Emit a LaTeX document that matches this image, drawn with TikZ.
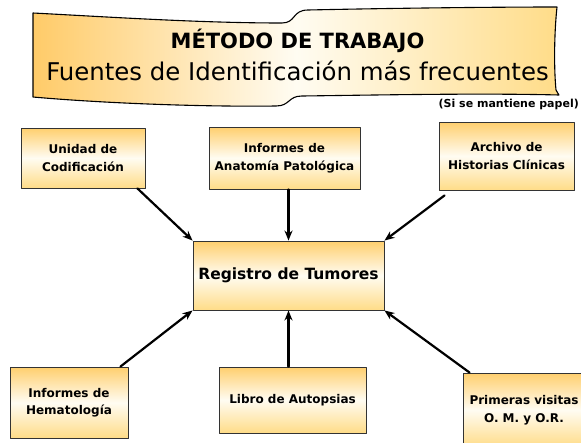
\documentclass[tikz,border=0pt]{standalone}
\usepackage{fontspec}
\setmainfont{DejaVu Sans}
\usetikzlibrary{arrows.meta,shadows}
\definecolor{naranja}{HTML}{FFCF6E}
\definecolor{crema}{HTML}{FFFCF2}
\definecolor{naranjaclaro}{HTML}{FFDC88}
\tikzset{
  fuente/.style={draw=black!80, line width=0.9pt, top color=naranja, bottom color=naranjaclaro, middle color=crema,
    align=center, inner sep=2pt, font=\bfseries\fontsize{12}{17.5}\selectfont,
    drop shadow={shadow xshift=1pt, shadow yshift=-1.2pt, opacity=.5, fill=black!70}},
  flecha/.style={-{Stealth[length=10pt,width=8pt]}, line width=2.2pt}
}
\begin{document}
\begin{tikzpicture}[x=1pt, y=-1pt, line join=round, line cap=round]
\useasboundingbox (0,0) rectangle (581,442);
\clip (0,0) rectangle (581,442);
% cartel del titulo
\draw[line width=1.1pt, left color=naranja!95!orange, right color=naranjaclaro, middle color=crema]
  (33,13) .. controls (110,17) and (200,23) .. (282,23) .. controls (296,23) and (292,10) .. (308,10)
  .. controls (400,8) and (500,7) .. (557,7) .. controls (554,35) and (554,70) .. (556,90)
  .. controls (557,93) and (559,94) .. (559,95) .. controls (480,93) and (380,95) .. (302,96)
  .. controls (288,96) and (290,106) .. (276,106) .. controls (200,107) and (100,103) .. (33,97) -- cycle;
\node[anchor=base] (metodo) at (297.5,48) {\bfseries\fontsize{21}{24}\selectfont MÉTODO DE TRABAJO};
\node[anchor=base] (fuentes) at (297.5,80) {\fontsize{24.4}{27}\selectfont Fuentes de Identificación más frecuentes};
\node[anchor=base east, inner sep=0pt] (papel) at (579,107) {\bfseries\fontsize{11}{13}\selectfont (Si se mantiene papel)};
% fuentes de identificacion
\node[fuente, minimum width=124pt, minimum height=60pt] (codif) at (83,158) {Unidad de\\Codificación};
\node[fuente, minimum width=151pt, minimum height=62pt] (anato) at (284.5,158) {Informes de\\Anatomía Patológica};
\node[fuente, minimum width=135pt, minimum height=68pt] (archi) at (506.5,156) {Archivo de\\Historias Clínicas};
\node[fuente, minimum width=118pt, minimum height=71pt] (hemat) at (69,402.5) {Informes de\\Hematología};
\node[fuente, minimum width=147pt, minimum height=66pt] (libro) at (292.5,400) {Libro de Autopsias};
\node[fuente, minimum width=122pt, minimum height=74pt] (prime) at (524,410) {Primeras visitas\\O. M. y O.R.};
% registro central
\node[fuente, minimum width=191pt, minimum height=69pt, font=\bfseries\fontsize{15.5}{18}\selectfont] (regis) at (288.5,275.5) {Registro de Tumores};
% flechas
\draw[flecha] ([xshift=-8pt]codif.south east) -- (regis.north west);
\draw[flecha] (anato.south -| regis.north) -- (regis.north);
\draw[flecha] ([xshift=6pt,yshift=-5pt]archi.south west) -- (regis.north east);
\draw[flecha] ([xshift=-8pt]hemat.north east) -- (regis.south west);
\draw[flecha] (libro.north -| regis.south) -- (regis.south);
\draw[flecha] ([xshift=7pt]prime.north west) -- (regis.south east);
\end{tikzpicture}
\end{document}
